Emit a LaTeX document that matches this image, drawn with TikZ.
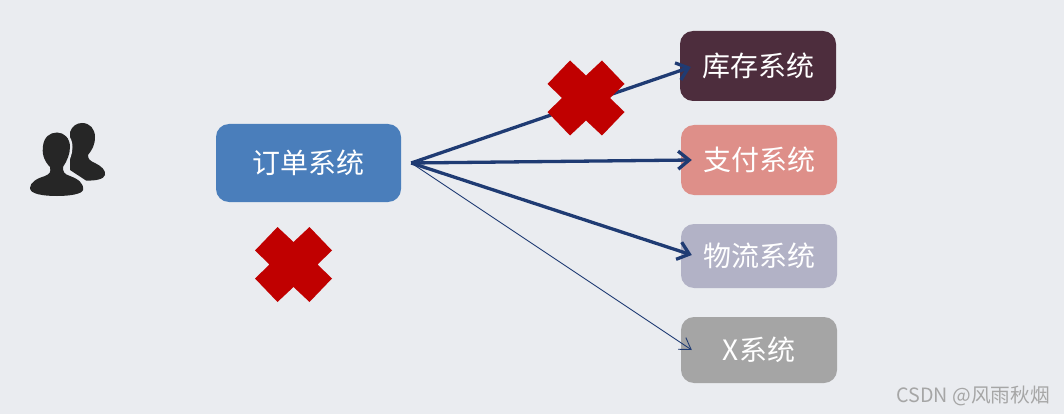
\documentclass[tikz,border=0pt]{standalone}
\usepackage{fontspec}
\setmainfont{Noto Sans CJK SC}
\usetikzlibrary{arrows.meta}
\definecolor{bgcolor}{HTML}{EAECF0}
\definecolor{ordercolor}{HTML}{4A7EBB}
\definecolor{stockcolor}{HTML}{4D2D3D}
\definecolor{paycolor}{HTML}{DE8F89}
\definecolor{logiscolor}{HTML}{B2B2C6}
\definecolor{xcolor}{HTML}{A5A5A5}
\definecolor{arrowcolor}{HTML}{1F3B73}
\definecolor{crosscolor}{HTML}{C00000}
\definecolor{iconcolor}{HTML}{262626}
\definecolor{markcolor}{HTML}{A6A6A6}
\begin{document}
\begin{tikzpicture}[x=1pt,y=-1pt]
        \tikzstyle{sysbox}=[rounded corners=13pt,text=white,font=\fontsize{28}{28}\selectfont,inner sep=0pt,anchor=center]
        \tikzstyle{bigarrow}=[draw=arrowcolor,line width=3.3pt,-{Straight Barb[length=11pt,width=18pt]}]
        \tikzstyle{thinarrow}=[draw=arrowcolor,line width=0.9pt,-{Straight Barb[length=11pt,width=14pt]}]
        \tikzstyle{crossmark}=[fill=crosscolor]
        \tikzset{redcross/.pic={\fill[crossmark] (-16,-37.5) -- (0,-22.5) -- (16,-37.5) -- (38.5,-14) -- (24,0) -- (38.5,14) -- (16,37.5) -- (0,22.5) -- (-16,37.5) -- (-38.5,14) -- (-24,0) -- (-38.5,-14) -- cycle;}}
        \def\frontuser{(50,167) .. controls (43,160) and (42,152) .. (43,146) .. controls (44,137) and (50,132.5) .. (57,132.5) .. controls (64,132.5) and (70,138) .. (70,147) .. controls (70,154) and (67,161) .. (63,167) .. controls (63,172) and (64,174) .. (70,176) .. controls (78,179) and (84,183) .. (83,190) .. controls (82,194) and (70,196) .. (57,196) .. controls (43,196) and (30,194) .. (30,188) .. controls (30,182) and (38,178) .. (45,176) .. controls (50,174) and (51,172) .. (50,167) -- cycle}
        \fill[bgcolor] (0,0) rectangle (1064,414);
        \useasboundingbox (0,0) rectangle (1064,414);
        % boxes
        \node[sysbox,fill=ordercolor,minimum width=185pt,minimum height=78pt] (order) at (308.5,163) {订单系统};
        \node[sysbox,fill=stockcolor,minimum width=156pt,minimum height=70pt] (stock) at (758,66) {库存系统};
        \node[sysbox,fill=paycolor,minimum width=156pt,minimum height=70pt] (pay) at (759,160) {支付系统};
        \node[sysbox,fill=logiscolor,minimum width=156pt,minimum height=64pt] (logis) at (759,256) {物流系统};
        \node[sysbox,fill=xcolor,minimum width=156pt,minimum height=66pt] (xsys) at (759,350) {X系统};
        \node[text=markcolor,font=\fontsize{19.7}{20}\selectfont,anchor=east,inner sep=0pt] (mark) at (1050,396) {CSDN @风雨秋烟};
        % arrows
        \coordinate (hub) at ([xshift=10pt]order.east);
        \draw[bigarrow] (hub) -- ([xshift=11pt,yshift=-1pt]stock.west);
        \draw[bigarrow] (hub) -- ([xshift=11pt]pay.west);
        \draw[bigarrow] (hub) -- ([xshift=11pt,yshift=1pt]logis.west);
        \draw[thinarrow] (hub) -- ([xshift=11pt]xsys.west);
        % crosses
        \pic at (586,98) {redcross};
        \pic at (293.5,264.5) {redcross};
        % users
        \fill[iconcolor] (70,132) .. controls (72,126) and (77,123) .. (82,123) .. controls (90,123) and (95,129) .. (95,137) .. controls (95,145) and (92,150) .. (88,155) .. controls (88,159) and (90,161) .. (95,163) .. controls (101,166) and (106,170) .. (105,175) .. controls (104,179) and (96,181) .. (86,180.5) -- (70,170) -- cycle;
        \draw[bgcolor,line width=5pt] \frontuser;
        \fill[iconcolor] \frontuser;
    \end{tikzpicture}
\end{document}
